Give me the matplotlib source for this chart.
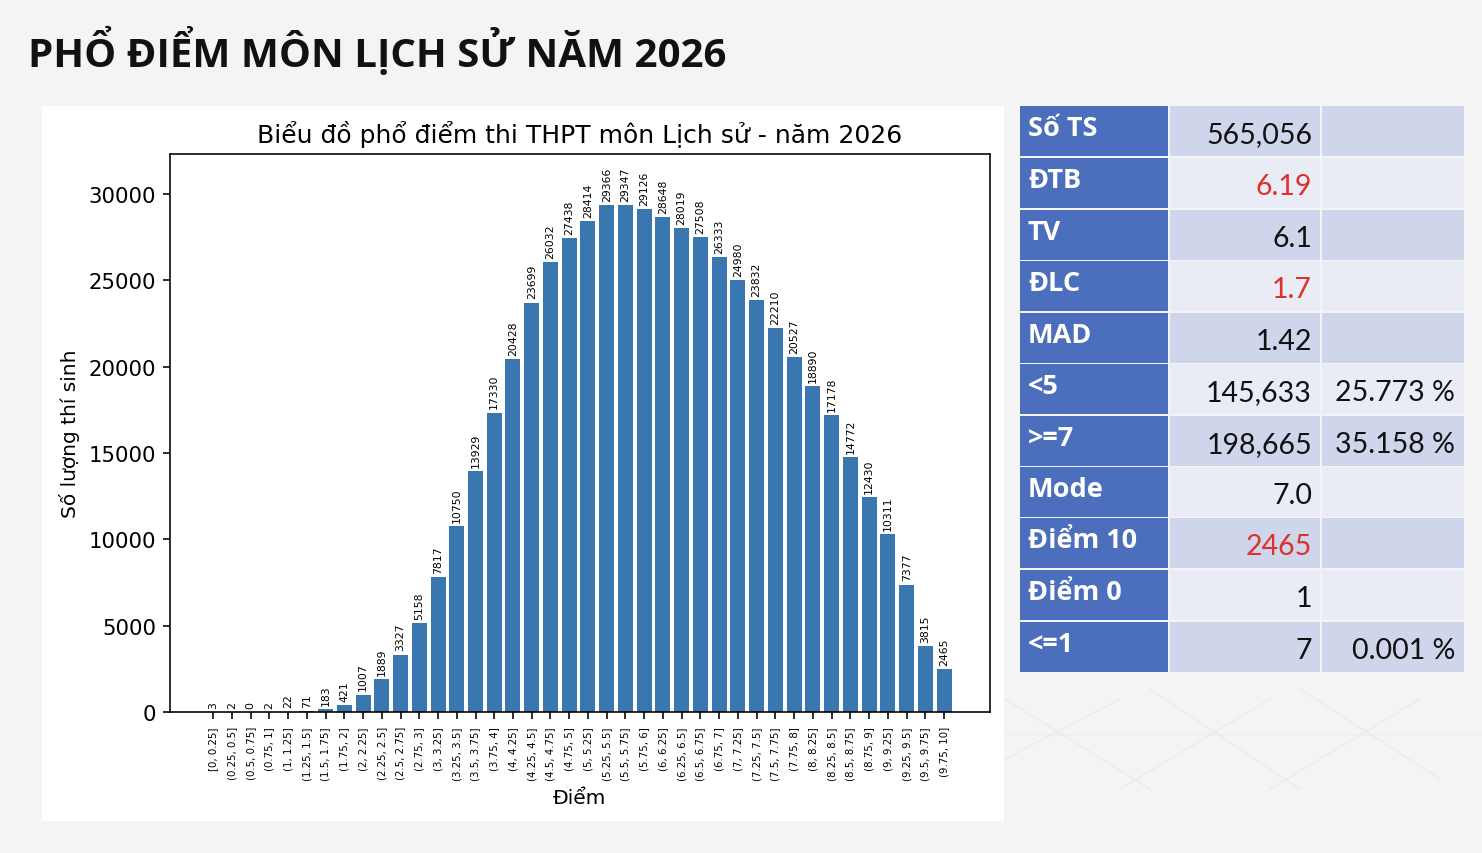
import matplotlib
matplotlib.use("Agg")
import matplotlib.pyplot as plt
from matplotlib.patches import Rectangle

# ---------------- data ----------------
bins = ["[0, 0.25]", "(0.25, 0.5]", "(0.5, 0.75]", "(0.75, 1]", "(1, 1.25]", "(1.25, 1.5]",
        "(1.5, 1.75]", "(1.75, 2]", "(2, 2.25]", "(2.25, 2.5]", "(2.5, 2.75]", "(2.75, 3]",
        "(3, 3.25]", "(3.25, 3.5]", "(3.5, 3.75]", "(3.75, 4]", "(4, 4.25]", "(4.25, 4.5]",
        "(4.5, 4.75]", "(4.75, 5]", "(5, 5.25]", "(5.25, 5.5]", "(5.5, 5.75]", "(5.75, 6]",
        "(6, 6.25]", "(6.25, 6.5]", "(6.5, 6.75]", "(6.75, 7]", "(7, 7.25]", "(7.25, 7.5]",
        "(7.5, 7.75]", "(7.75, 8]", "(8, 8.25]", "(8.25, 8.5]", "(8.5, 8.75]", "(8.75, 9]",
        "(9, 9.25]", "(9.25, 9.5]", "(9.5, 9.75]", "(9.75, 10]"]
counts = [3, 2, 0, 2, 22, 71, 183, 421, 1007, 1889, 3327, 5158, 7817, 10750, 13929,
          17330, 20428, 23699, 26032, 27438, 28414, 29366, 29347, 29126, 28648, 28019,
          27508, 26333, 24980, 23832, 22210, 20527, 18890, 17178, 14772, 12430, 10311,
          7377, 3815, 2465]

stat_labels = ["Số TS", "ĐTB", "TV", "ĐLC", "MAD", "<5", ">=7", "Mode", "Điểm 10", "Điểm 0", "<=1"]
stat_values = ["565,056", "6.19", "6.1", "1.7", "1.42", "145,633", "198,665", "7.0", "2465", "1", "7"]
stat_pcts = ["", "", "", "", "", "25.773 %", "35.158 %", "", "", "", "0.001 %"]
stat_red = [False, True, False, True, False, False, False, False, True, False, False]

page_title = "PHỔ ĐIỂM MÔN LỊCH SỬ NĂM 2026"
chart_title = "Biểu đồ phổ điểm thi THPT môn Lịch sử - năm 2026"

# ---------------- figure ----------------
W, H = 1482, 854
fig = plt.figure(figsize=(W / 100, H / 100), dpi=100, facecolor="#f4f4f4")

# overlay in pixel coords
ov = fig.add_axes([0, 0, 1, 1])
ov.set_xlim(0, W)
ov.set_ylim(H, 0)
ov.axis("off")

# faint decorative lines at lower right
for (xa, ya, xb, yb) in [(1005, 700, 1150, 790), (1150, 690, 1300, 790), (1300, 690, 1440, 780),
                         (1005, 760, 1120, 700), (1120, 790, 1270, 700), (1270, 790, 1420, 700),
                         (1005, 735, 1482, 735)]:
    ov.plot([xa, xb], [ya, yb], color="#ebebeb", lw=1, zorder=0)

# white chart panel
ov.add_patch(Rectangle((42, 107), 962, 715, facecolor="white", edgecolor="none", zorder=0.5))

ov.text(28, 67, page_title, fontsize=29, fontweight="bold", family="Open Sans",
        ha="left", va="baseline", color="#111111")

# ---------------- table ----------------
row_tops = [107, 159, 211, 262, 314, 365, 417, 468, 519, 571, 623]
row_h = 49.5
col_x = [(1020, 1167.5), (1169.5, 1320), (1322, 1464)]
blue = "#4b6fbd"
shade = ["#cfd5ea", "#e9ebf5"]
for i, lab in enumerate(stat_labels):
    y0 = row_tops[i]
    ov.add_patch(Rectangle((col_x[0][0], y0), col_x[0][1] - col_x[0][0], row_h,
                           facecolor=blue, edgecolor="none", zorder=1))
    for c in (1, 2):
        ov.add_patch(Rectangle((col_x[c][0], y0), col_x[c][1] - col_x[c][0], row_h,
                               facecolor=shade[i % 2], edgecolor="none", zorder=1))
    ov.text(1028, y0 + 29, lab, fontsize=19.5, fontweight="bold", family="Open Sans",
            color="white", ha="left", va="baseline", zorder=2)
    ov.text(col_x[1][1] - 8, y0 + 36, stat_values[i], fontsize=20.5, family="Lato",
            color="#e0302a" if stat_red[i] else "#111111", ha="right", va="baseline", zorder=2)
    if stat_pcts[i]:
        ov.text(col_x[2][1] - 9, y0 + 36, stat_pcts[i], fontsize=20.5, family="Lato",
                color="#111111", ha="right", va="baseline", zorder=2)

# ---------------- chart ----------------
s = 1.45
ax = fig.add_axes([170 / W, (H - 713) / H, 820 / W, 558 / H])
x = list(range(len(counts)))
bars = ax.bar(x, counts, width=0.8, color="#3a76b0")
ax.bar_label(bars, labels=[str(c) for c in counts], rotation=90, fontsize=7.8, padding=3)
ax.set_xticks(x)
ax.set_xticklabels(bins, rotation=90, fontsize=7.4)
ax.set_xlim(-2.3, 41.45)
ax.set_ylim(0, max(counts) * 1.1)
ax.set_yticks([0, 5000, 10000, 15000, 20000, 25000, 30000])
ax.tick_params(axis="y", labelsize=15.3)
ax.tick_params(length=3.5 * s, width=0.8 * s, pad=3.5 * s)
for sp in ax.spines.values():
    sp.set_linewidth(0.8 * s)
ax.set_title(chart_title, fontsize=18, pad=6 * s)
ax.set_xlabel("Điểm", fontsize=14.5, labelpad=4 * s)
ax.set_ylabel("Số lượng thí sinh", fontsize=14.5, labelpad=4 * s)

fig.savefig("out.png", dpi=100, facecolor=fig.get_facecolor())
